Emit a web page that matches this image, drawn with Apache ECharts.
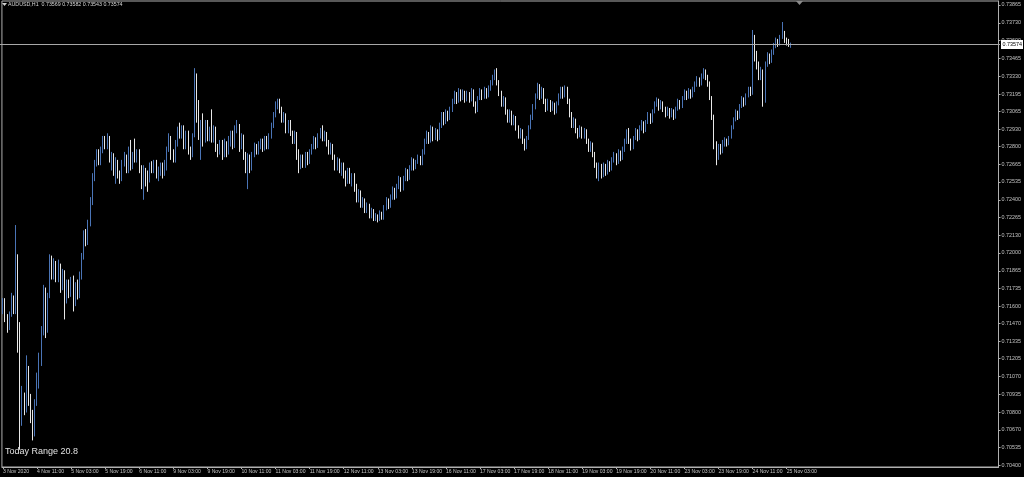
<!DOCTYPE html>
<html>
<head>
<meta charset="utf-8">
<script src="https://cdn.jsdelivr.net/npm/echarts@6.0.0/dist/echarts.min.js"></script>
<style>html,body{margin:0;padding:0;background:#000;}#c{width:1024px;height:477px;}</style>
</head>
<body>
<div id="c"></div>
<script>
// Prices are stored in points (1 point = 0.00001) above BASE.
const BASE = 0.70000;
const POINT = 0.00001;

const xTickLabels = ["3 Nov 2020","4 Nov 11:00","5 Nov 03:00","5 Nov 19:00","6 Nov 11:00","9 Nov 03:00","9 Nov 19:00","10 Nov 11:00","11 Nov 03:00","11 Nov 19:00","12 Nov 11:00","13 Nov 03:00","13 Nov 19:00","16 Nov 11:00","17 Nov 03:00","17 Nov 19:00","18 Nov 11:00","19 Nov 03:00","19 Nov 19:00","20 Nov 11:00","23 Nov 03:00","23 Nov 19:00","24 Nov 11:00","25 Nov 03:00"];
const yTicks = [0.73865,0.73730,0.73600,0.73465,0.73330,0.73195,0.73065,0.72930,0.72800,0.72665,0.72535,0.72400,0.72265,0.72130,0.72000,0.71865,0.71735,0.71600,0.71470,0.71335,0.71205,0.71070,0.70935,0.70800,0.70670,0.70535,0.70400];
const lastQuote = {open:0.73569, high:0.73582, low:0.73543, close:0.73574};
const todayRange = 20.8;

const opens = [
1560,1640,1500,1430,1540,1660,1560,1960,1450,770,
930,820,1100,900,760,640,870,1050,1200,1400,
1720,1420,1680,1940,1830,1920,1800,1900,1750,1850,
1640,1780,1690,1800,1650,1760,1680,1820,1970,2130,
2080,2230,2380,2570,2680,2760,2680,2780,2850,2800,
2870,2700,2740,2600,2680,2580,2560,2680,2730,2620,
2760,2650,2740,2700,2760,2620,2550,2620,2560,2540,
2660,2620,2680,2580,2600,2660,2600,2640,2780,2860,
2740,2700,2820,2930,2880,2940,2800,2900,2760,2730,
2880,3300,3050,2900,2960,2850,2980,2860,2930,2850,
2940,2780,2760,2820,2740,2830,2750,2860,2900,2810,
2940,2960,2800,2880,2720,2680,2720,2640,2740,2800,
2760,2820,2840,2780,2860,2800,2880,2960,3040,3120,
3140,3070,3000,3040,2930,2980,2900,2840,2900,2740,
2650,2720,2660,2740,2690,2760,2800,2860,2800,2880,
2920,2860,2900,2820,2760,2810,2720,2640,2700,2620,
2660,2580,2540,2620,2540,2580,2480,2400,2460,2360,
2400,2320,2360,2280,2320,2260,2280,2250,2300,2260,
2340,2400,2350,2420,2480,2420,2500,2560,2480,2560,
2620,2560,2640,2700,2640,2690,2720,2680,2760,2840,
2900,2840,2940,2860,2920,2860,2960,3040,2980,3060,
3010,3080,3140,3200,3140,3220,3160,3210,3150,3200,
3150,3220,3120,3070,3160,3220,3170,3230,3180,3240,
3280,3320,3360,3280,3200,3120,3160,3060,3000,3060,
2980,3020,2940,2880,2920,2840,2790,2860,2940,3020,
3100,3180,3260,3170,3230,3140,3080,3140,3080,3120,
3060,3120,3180,3230,3180,3240,3140,3040,2960,3000,
2920,2880,2940,2880,2920,2840,2780,2820,2740,2660,
2600,2660,2580,2660,2600,2680,2630,2700,2740,2680,
2760,2710,2780,2840,2910,2840,2790,2860,2920,2860,
2940,2980,2920,2980,3040,2990,3060,3120,3150,3090,
3130,3080,3040,3080,3030,3070,3020,3080,3140,3100,
3160,3210,3170,3220,3180,3230,3270,3310,3270,3330,
3360,3320,3270,3170,3020,2800,2720,2800,2760,2830,
2850,2820,2870,2940,3000,3060,3020,3100,3160,3120,
3180,3230,3200,3580,3470,3400,3330,3370,3150,3420,
3490,3440,3510,3560,3600,3570,3620,3650,3600,3580,
3569];
const highs = [
1660,1660,1540,1560,1700,1680,2210,1990,1480,1000,
950,1230,1150,940,820,900,1100,1250,1450,1760,
1740,1700,1990,1980,1960,1940,1950,1920,1880,1870,
1800,1800,1820,1830,1780,1800,1860,2000,2170,2180,
2250,2420,2600,2700,2780,2780,2800,2880,2880,2900,
2880,2760,2750,2720,2700,2620,2700,2760,2740,2800,
2850,2760,2860,2780,2780,2660,2660,2640,2620,2680,
2690,2700,2700,2650,2680,2680,2700,2800,2900,2880,
2780,2850,2950,2980,2960,2960,2920,2920,2800,2900,
3390,3350,3150,3000,3050,3000,3000,2950,3080,2960,
2950,2820,2850,2850,2860,2840,2880,2920,2920,2960,
3000,2970,2900,2890,2760,2750,2740,2760,2830,2820,
2840,2860,2860,2880,2880,2900,2980,3060,3140,3160,
3160,3100,3060,3050,3000,3000,2920,2920,2910,2780,
2740,2740,2760,2760,2780,2820,2880,2870,2900,2940,
2960,2920,2910,2850,2830,2820,2740,2720,2710,2680,
2680,2620,2640,2640,2600,2600,2520,2480,2470,2420,
2410,2380,2370,2340,2330,2300,2290,2320,2310,2360,
2420,2410,2440,2500,2490,2520,2580,2570,2580,2640,
2630,2660,2720,2710,2700,2740,2730,2780,2860,2920,
2910,2960,2950,2940,2930,2980,3060,3060,3080,3070,
3100,3160,3220,3210,3240,3230,3230,3220,3220,3210,
3240,3230,3140,3180,3240,3230,3250,3240,3260,3300,
3340,3380,3390,3300,3220,3180,3170,3080,3080,3070,
3040,3030,2960,2940,2930,2860,2880,2960,3040,3120,
3200,3280,3270,3250,3240,3160,3160,3150,3140,3130,
3140,3200,3250,3250,3260,3250,3160,3060,3020,3010,
2940,2960,2950,2940,2930,2860,2840,2830,2760,2680,
2680,2670,2680,2670,2700,2690,2720,2760,2750,2780,
2770,2800,2860,2930,2940,2860,2880,2940,2930,2960,
3000,2990,3000,3060,3050,3080,3140,3170,3160,3150,
3140,3100,3100,3090,3090,3080,3100,3160,3150,3180,
3230,3220,3240,3230,3250,3290,3330,3320,3350,3390,
3380,3340,3290,3180,3040,2840,2820,2820,2850,2870,
2860,2880,2960,3020,3080,3070,3120,3180,3170,3200,
3250,3250,3677,3640,3520,3440,3400,3380,3440,3510,
3500,3530,3580,3620,3610,3640,3737,3670,3620,3610,
3582];
const lows = [
1540,1480,1400,1420,1520,1540,1540,1250,520,700,
780,800,850,720,590,620,850,980,1150,1380,
1360,1400,1660,1800,1800,1780,1780,1700,1720,1500,
1620,1660,1670,1560,1600,1650,1660,1800,1950,2050,
2060,2200,2360,2540,2650,2660,2660,2750,2780,2780,
2680,2620,2580,2520,2560,2520,2540,2650,2600,2600,
2620,2630,2680,2680,2600,2480,2400,2500,2460,2530,
2600,2600,2560,2540,2580,2560,2580,2620,2760,2700,
2680,2680,2800,2860,2860,2780,2780,2740,2700,2720,
2870,2980,2850,2700,2800,2830,2840,2840,2830,2830,
2760,2720,2740,2700,2720,2720,2740,2800,2780,2790,
2900,2760,2780,2700,2600,2480,2600,2620,2720,2740,
2740,2780,2760,2770,2780,2780,2860,2940,3020,3080,
3050,2980,2980,2900,2900,2880,2820,2820,2700,2600,
2630,2640,2640,2660,2670,2740,2780,2780,2790,2860,
2840,2840,2800,2740,2740,2700,2620,2620,2600,2580,
2560,2500,2520,2520,2500,2460,2380,2380,2340,2340,
2300,2300,2260,2260,2240,2240,2230,2240,2250,2250,
2320,2330,2340,2400,2400,2410,2480,2460,2470,2540,
2540,2550,2620,2620,2630,2670,2660,2660,2740,2820,
2820,2830,2840,2850,2840,2850,2940,2960,2970,2990,
3000,3060,3120,3120,3130,3140,3150,3130,3140,3130,
3140,3100,3050,3060,3150,3150,3160,3160,3170,3220,
3260,3300,3260,3180,3100,3100,3040,2980,2980,2960,
2960,2920,2860,2860,2820,2770,2780,2850,2930,3000,
3080,3160,3150,3160,3120,3060,3070,3060,3070,3040,
3050,3110,3160,3160,3170,3120,3020,2940,2940,2900,
2860,2870,2860,2860,2820,2760,2760,2720,2640,2560,
2540,2560,2570,2580,2590,2610,2620,2680,2660,2670,
2690,2700,2760,2820,2820,2770,2780,2850,2840,2850,
2920,2900,2910,2970,2970,2980,3050,3100,3070,3080,
3060,3020,3030,3010,3020,3000,3010,3070,3080,3090,
3150,3150,3160,3160,3170,3210,3250,3250,3260,3310,
3300,3250,3150,3000,2780,2660,2700,2740,2750,2800,
2800,2810,2860,2930,2990,3000,3010,3090,3100,3110,
3170,3180,3190,3440,3380,3300,3300,3100,3130,3400,
3420,3430,3490,3540,3550,3560,3610,3580,3560,3550,
3543];
const closes = [
1640,1500,1430,1540,1660,1560,1960,1450,770,930,
820,1100,900,760,640,870,1050,1200,1400,1720,
1420,1680,1940,1830,1920,1800,1900,1750,1850,1640,
1780,1690,1800,1650,1760,1680,1820,1970,2130,2080,
2230,2380,2570,2680,2760,2680,2780,2850,2800,2870,
2700,2740,2600,2680,2580,2560,2680,2730,2620,2760,
2650,2740,2700,2760,2620,2550,2620,2560,2540,2660,
2620,2680,2580,2600,2660,2600,2640,2780,2860,2740,
2700,2820,2930,2880,2940,2800,2900,2760,2730,2880,
3300,3050,2900,2960,2850,2980,2860,2930,2850,2940,
2780,2760,2820,2740,2830,2750,2860,2900,2810,2940,
2960,2800,2880,2720,2680,2720,2640,2740,2800,2760,
2820,2840,2780,2860,2800,2880,2960,3040,3120,3140,
3070,3000,3040,2930,2980,2900,2840,2900,2740,2650,
2720,2660,2740,2690,2760,2800,2860,2800,2880,2920,
2860,2900,2820,2760,2810,2720,2640,2700,2620,2660,
2580,2540,2620,2540,2580,2480,2400,2460,2360,2400,
2320,2360,2280,2320,2260,2280,2250,2300,2260,2340,
2400,2350,2420,2480,2420,2500,2560,2480,2560,2620,
2560,2640,2700,2640,2690,2720,2680,2760,2840,2900,
2840,2940,2860,2920,2860,2960,3040,2980,3060,3010,
3080,3140,3200,3140,3220,3160,3210,3150,3200,3150,
3220,3120,3070,3160,3220,3170,3230,3180,3240,3280,
3320,3360,3280,3200,3120,3160,3060,3000,3060,2980,
3020,2940,2880,2920,2840,2790,2860,2940,3020,3100,
3180,3260,3170,3230,3140,3080,3140,3080,3120,3060,
3120,3180,3230,3180,3240,3140,3040,2960,3000,2920,
2880,2940,2880,2920,2840,2780,2820,2740,2660,2600,
2660,2580,2660,2600,2680,2630,2700,2740,2680,2760,
2710,2780,2840,2910,2840,2790,2860,2920,2860,2940,
2980,2920,2980,3040,2990,3060,3120,3150,3090,3130,
3080,3040,3080,3030,3070,3020,3080,3140,3100,3160,
3210,3170,3220,3180,3230,3270,3310,3270,3330,3360,
3320,3270,3170,3020,2800,2720,2800,2760,2830,2850,
2820,2870,2940,3000,3060,3020,3100,3160,3120,3180,
3230,3200,3580,3470,3400,3330,3370,3150,3420,3490,
3440,3510,3560,3600,3570,3620,3650,3600,3580,3569,
3574];

const TOTAL_SLOTS = 468;      // bars + empty right-shift area
const LABEL_EVERY = 16;
const Y_MIN = 0.703902, Y_MAX = 0.738950;

const categories = [];
for (let i = 0; i < TOTAL_SLOTS; i++) categories.push(String(i));
const toPrice = p => +(BASE + p * POINT).toFixed(5);
const candles = opens.map((o, i) => [toPrice(o), toPrice(closes[i]), toPrice(lows[i]), toPrice(highs[i])]);

const BULL = '#4a74b6', BEAR = '#ffffff', FG = '#c4c4c4', FRAME = '#b0b0b0';
const showTick = i => i % LABEL_EVERY === 0 && i / LABEL_EVERY < xTickLabels.length;
const GRID = {left: 0, right: 24, top: 1, bottom: 10};

const chart = echarts.init(document.getElementById('c'), null, {renderer: 'canvas'});
const baseGraphic = [
  {type: 'polygon', shape: {points: [[2, 3], [7, 3], [4.5, 6]]}, style: {fill: '#d0d0d0'}},
  {type: 'text', left: 8, top: 2, style: {text: 'AUDUSD,H1  ' + [lastQuote.open, lastQuote.high, lastQuote.low, lastQuote.close].map(v => v.toFixed(5)).join(' '),
    fill: '#d8d8d8', font: '5.3px "Liberation Sans"'}},
  {type: 'polygon', shape: {points: [[796, 1], [803, 1], [799.5, 5]]}, style: {fill: '#8a8a8a'}},
  {type: 'text', left: 5, top: 447, style: {text: 'Today Range ' + todayRange.toFixed(1), fill: '#e0e0e0', font: '9px "Liberation Sans"'}}
];
chart.setOption({
  backgroundColor: '#000',
  animation: false,
  grid: Object.assign({show: true, borderColor: FRAME, borderWidth: 1}, GRID),
  xAxis: {
    type: 'category', data: categories, boundaryGap: true,
    axisLine: {show: true, lineStyle: {color: FRAME, width: 1}},
    axisTick: {show: true, interval: showTick, alignWithLabel: true, length: 2, lineStyle: {color: FRAME}},
    axisLabel: {interval: showTick, formatter: (v, i) => xTickLabels[i / LABEL_EVERY] || '', align: 'left',
      color: FG, fontSize: 5.1, fontFamily: 'Liberation Sans', margin: 2},
    splitLine: {show: false}
  },
  yAxis: {
    type: 'value', position: 'right', min: Y_MIN, max: Y_MAX,
    axisLine: {show: true, lineStyle: {color: FRAME, width: 1}},
    axisTick: {show: true, length: 2, customValues: yTicks, lineStyle: {color: FRAME}},
    axisLabel: {customValues: yTicks, formatter: v => v.toFixed(5), color: FG, fontSize: 5.4,
      fontFamily: 'Liberation Sans', margin: 3},
    splitLine: {show: false}
  },
  series: [{
    type: 'candlestick', data: candles, barWidth: 1.3,
    itemStyle: {color: BULL, color0: BEAR, borderColor: BULL, borderColor0: '#e8e8e8', borderWidth: 1}
  }],
  graphic: baseGraphic
});

// Current-price (bid) line and its price tag, placed through the y axis scale.
const yPx = Math.round(chart.convertToPixel({yAxisIndex: 0}, lastQuote.close)) + 0.5;
const rightEdge = 1024 - GRID.right;
chart.setOption({
  graphic: baseGraphic.concat([
    {type: 'line', z: 50, shape: {x1: 0, y1: yPx, x2: rightEdge, y2: yPx}, style: {stroke: '#a8a8a8', lineWidth: 1}},
    {type: 'rect', z: 51, shape: {x: rightEdge + 1, y: yPx - 4.5, width: 22, height: 9}, style: {fill: '#ffffff'}},
    {type: 'text', z: 52, x: rightEdge + 2.5, y: yPx, style: {text: lastQuote.close.toFixed(5), fill: '#000',
      font: '5.4px "Liberation Sans"', verticalAlign: 'middle', align: 'left'}}
  ])
}, {replaceMerge: ['graphic']});
</script>
</body>
</html>
